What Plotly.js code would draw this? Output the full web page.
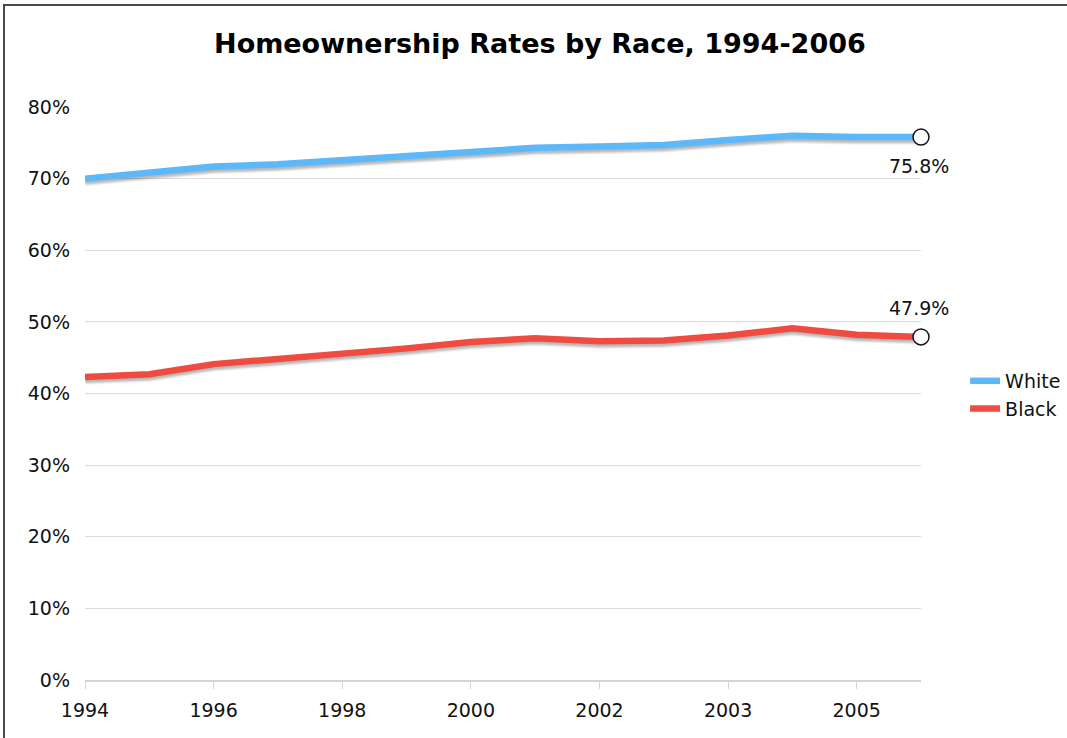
<!DOCTYPE html>
<html>
<head>
<meta charset="utf-8">
<script src="https://cdn.plot.ly/plotly-3.0.1.min.js"></script>
<style>
  html, body { margin: 0; padding: 0; background: #fff; overflow: hidden; }
  #chart { position: absolute; left: 0; top: 0; width: 1067px; height: 738px; }
  #frame { position: absolute; left: 3px; top: 4px; width: 2000px; height: 2000px;
           border: 2px solid #4a4a4a; pointer-events: none; }
  .scatterlayer .trace path.js-line { filter: drop-shadow(0px 3px 1px rgba(0,0,0,0.28)); }
</style>
</head>
<body>
<div id="chart"></div>
<div id="frame"></div>
<script>
// Categories (2002 appears twice: original and revised survey weighting)
const categories = ["1994","1995","1996","1997","1998","1999","2000","2001","2002","2002r","2003","2004","2005","2006"];
const tickLabels = ["1994","1996","1998","2000","2002","2003","2005"];
const tickIndex = [0, 2, 4, 6, 8, 10, 12];
const white = [70.0, 70.9, 71.7, 72.0, 72.6, 73.2, 73.8, 74.3, 74.5, 74.7, 75.4, 76.0, 75.8, 75.8];
const black = [42.3, 42.7, 44.1, 44.8, 45.6, 46.3, 47.2, 47.7, 47.3, 47.4, 48.1, 49.1, 48.2, 47.9];
const yTicks = [0, 10, 20, 30, 40, 50, 60, 70, 80];

const xIdx = categories.map((c, i) => i);
const last = categories.length - 1;
const font = "DejaVu Sans, Verdana, sans-serif";
const fs = 19;

const traces = [
  { x: xIdx, y: white, name: "White", type: "scatter", mode: "lines",
    line: { color: "#5cb8f8", width: 6.5 }, hoverinfo: "skip" },
  { x: xIdx, y: black, name: "Black", type: "scatter", mode: "lines",
    line: { color: "#f04b41", width: 6.5 }, hoverinfo: "skip" },
  { x: [last, last], y: [white[last], black[last]], type: "scatter", mode: "markers",
    showlegend: false, cliponaxis: false,
    marker: { size: 16, color: "#fff", line: { color: "#111", width: 1.5 } },
    hoverinfo: "skip" }
];

const endLabel = (val, shift) => ({
  x: last, y: val, xref: "x", yref: "y", text: val.toFixed(1) + "%",
  showarrow: false, xshift: -2, yshift: shift,
  font: { family: font, size: fs, color: "#111" }
});

const layout = {
  width: 1067, height: 738,
  paper_bgcolor: "rgba(0,0,0,0)", plot_bgcolor: "rgba(0,0,0,0)",
  margin: { l: 85, r: 146, t: 107, b: 58, autoexpand: false },
  font: { family: font, size: fs, color: "#111" },
  title: { text: "<b>Homeownership Rates by Race, 1994-2006</b>",
           font: { family: font, size: 27, color: "#000" },
           x: 0.506, xanchor: "center", y: 0.941, yanchor: "middle" },
  xaxis: {
    range: [0, last], showgrid: false, zeroline: false,
    showline: true, linecolor: "#d4d4d4", linewidth: 1.5,
    ticks: "outside", ticklen: 7, tickcolor: "#d4d4d4", tickwidth: 1,
    ticklabelstandoff: 6,
    tickmode: "array", tickvals: tickIndex, ticktext: tickLabels,
    tickfont: { family: font, size: fs, color: "#111" }
  },
  yaxis: {
    range: [0, 80], showgrid: true, gridcolor: "#dcdcdc", gridwidth: 1,
    zeroline: false, showline: false,
    tickmode: "array", tickvals: yTicks, ticktext: yTicks.map(v => v + "%"),
    ticks: "", ticklabelstandoff: 14,
    tickfont: { family: font, size: fs, color: "#111" }
  },
  annotations: [endLabel(white[last], -29), endLabel(black[last], 29)],
  showlegend: true,
  legend: { xref: "container", yref: "container", x: 0.9045, xanchor: "left",
            y: 0.4648, yanchor: "middle",
            font: { family: font, size: fs, color: "#111" },
            itemwidth: 30, tracegroupgap: 0, bgcolor: "rgba(0,0,0,0)" }
};

Plotly.newPlot("chart", traces, layout, { displayModeBar: false, staticPlot: true });
</script>
</body>
</html>
